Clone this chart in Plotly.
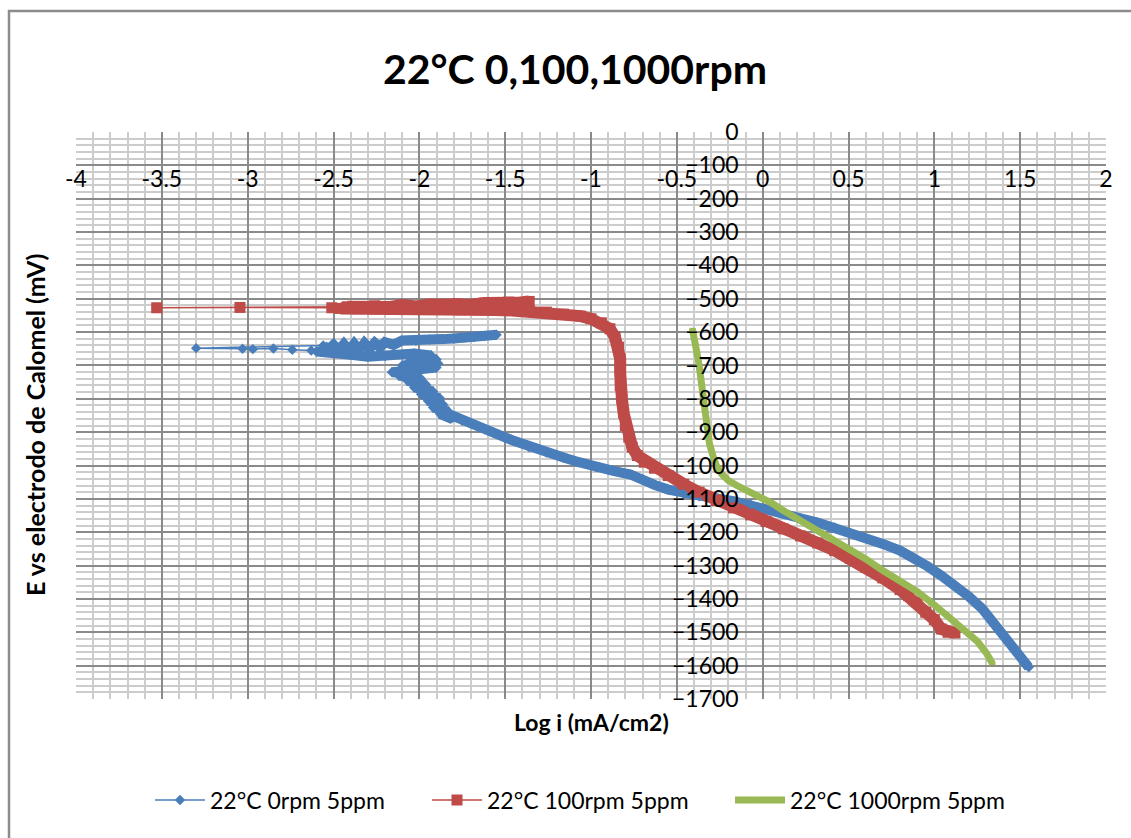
import plotly.graph_objects as go

# ---- 22 °C, 5 ppm: polarisation curves at 0, 100 and 1000 rpm ----
# log i (mA/cm2) and E vs calomel electrode (mV), in scan order

# 0 rpm: cathodic branch, noisy region, tail towards E corr, anodic branch
logi_0rpm = [
    1.55, 1.50, 1.45, 1.40, 1.34, 1.28, 1.20, 1.12, 1.04, 0.96, 0.88, 0.80,
    0.70, 0.60, 0.51, 0.42, 0.32, 0.22, 0.12, 0.02, -0.07, -0.17, -0.27,
    -0.37, -0.46, -0.55, -0.63, -0.70, -0.77, -0.87, -0.97, -1.07, -1.16,
    -1.26, -1.36, -1.45, -1.55, -1.65, -1.75, -1.80,
    -1.82, -1.88, -1.83, -1.92, -1.86, -1.95, -1.88, -1.99, -1.92, -2.03,
    -1.96, -2.07, -1.99, -2.12, -2.02, -2.16, -2.04, -1.90, -2.10, -1.89,
    -2.06, -1.90, -2.04, -1.93, -2.03,
    -2.10, -2.20, -2.30, -2.40, -2.50, -2.60,
    -2.63, -2.74, -2.85, -2.97, -3.03, -3.30,
    -2.56, -2.53, -2.50, -2.47, -2.44, -2.41, -2.38, -2.35, -2.32, -2.29,
    -2.26, -2.23, -2.20, -2.15, -2.10,
    -2.02, -1.94, -1.86, -1.80, -1.74, -1.68, -1.62, -1.55,
]
e_0rpm = [
    -1605, -1572, -1540, -1505, -1468, -1430, -1392, -1358, -1330, -1302,
    -1276, -1255, -1235, -1217, -1202, -1186, -1171, -1158, -1145, -1130,
    -1117, -1107, -1099, -1092, -1085, -1072, -1058, -1042, -1027, -1016,
    -1005, -990, -976, -961, -945, -926, -905, -886, -866, -852,
    -858, -845, -838, -826, -818, -806, -798, -786, -778, -766,
    -758, -746, -740, -730, -724, -720, -714, -706, -700, -694,
    -688, -682, -676, -670, -664,
    -668, -672, -674, -668, -662, -658,
    -655, -653, -649, -651, -650, -648,
    -640, -652, -638, -654, -636, -655, -635, -654, -633, -650,
    -632, -646, -630, -638, -625,
    -626, -622, -621, -619, -617, -615, -612, -608,
]
# the six points nearest E corr are sparse (thin line between markers)
SPARSE_0RPM = (71, 77)

# 100 rpm: cathodic branch, tail towards E corr, anodic branch
logi_100rpm = [
    1.12, 1.08, 1.04, 1.00, 0.95, 0.90, 0.85, 0.80, 0.70, 0.60, 0.51, 0.42,
    0.32, 0.22, 0.12, 0.02, -0.07, -0.17, -0.27, -0.37, -0.46, -0.55, -0.63,
    -0.69, -0.73, -0.76, -0.78, -0.80, -0.81, -0.82, -0.83, -0.83, -0.83,
    -0.84, -0.86, -0.89, -0.94, -1.00, -1.06, -1.16,
    -1.26, -1.36, -1.46, -1.56, -1.66, -1.76, -1.86, -1.96, -2.06, -2.16,
    -2.26, -2.36, -2.46,
    -2.51, -3.045, -3.53,
    -2.42, -2.34, -2.26, -2.18, -2.10, -2.02, -1.94, -1.86, -1.78, -1.70,
    -1.62, -1.54, -1.48, -1.42, -1.36,
]
e_100rpm = [
    -1502, -1500, -1490, -1462, -1440, -1410, -1390, -1372, -1337, -1305,
    -1278, -1255, -1232, -1211, -1190, -1168, -1148, -1127, -1105, -1080,
    -1056, -1030, -1008, -990, -970, -945, -915, -880, -843, -800,
    -760, -720, -680, -645, -615, -590, -572, -560, -552, -546,
    -540, -537, -535, -534, -533, -533, -532, -532, -531, -531,
    -530, -530, -529,
    -527, -526, -527,
    -524, -527, -521, -525, -519, -523, -517, -520, -515, -518,
    -513, -515, -510, -512, -508,
]
SPARSE_100RPM = (53, 56)

# 1000 rpm
logi_1000rpm = [
    -0.41, -0.40, -0.39, -0.38, -0.37, -0.36, -0.35, -0.34, -0.33, -0.32,
    -0.31, -0.29, -0.27, -0.24, -0.20, -0.15, -0.09, -0.02, 0.05, 0.12,
    0.22, 0.32, 0.42, 0.51, 0.60, 0.70, 0.80, 0.90, 1.00, 1.09, 1.17, 1.25,
    1.30, 1.34,
]
e_1000rpm = [
    -590, -610, -640, -670, -700, -740, -780, -820, -860, -900,
    -935, -970, -1000, -1025, -1045, -1060, -1075, -1093, -1112, -1135,
    -1165, -1195, -1222, -1247, -1280, -1315, -1345, -1378, -1418, -1458,
    -1490, -1527, -1560, -1595,
]

series_names = ["22°C 0rpm 5ppm", "22°C 100rpm 5ppm", "22°C 1000rpm 5ppm"]

x_ticks = [-4, -3.5, -3, -2.5, -2, -1.5, -1, -0.5, 0, 0.5, 1, 1.5, 2]
y_ticks = list(range(0, -1800, -100))

BLUE = "#4A7EBB"
RED = "#BE4B48"
GREEN = "#98B954"
FONT = "Lato, 'Open Sans', sans-serif"


def dense_part(values, sparse):
    """Values with the sparse stretch replaced by a gap."""
    a, b = sparse
    return values[:a] + [None] + values[b:]


fig = go.Figure()

# dense measurement bands (thick strokes under the marker traces)
fig.add_trace(go.Scatter(
    x=dense_part(logi_0rpm, SPARSE_0RPM), y=dense_part(e_0rpm, SPARSE_0RPM),
    mode="lines", line=dict(color=BLUE, width=10), showlegend=False,
    hoverinfo="skip", connectgaps=False))
fig.add_trace(go.Scatter(
    x=dense_part(logi_100rpm, SPARSE_100RPM),
    y=dense_part(e_100rpm, SPARSE_100RPM),
    mode="lines", line=dict(color=RED, width=12), showlegend=False,
    hoverinfo="skip", connectgaps=False))

fig.add_trace(go.Scatter(
    x=logi_0rpm, y=e_0rpm, name=series_names[0], mode="lines+markers",
    line=dict(color=BLUE, width=1.5),
    marker=dict(symbol="diamond", size=8, color=BLUE),
    legend="legend",
))
fig.add_trace(go.Scatter(
    x=logi_100rpm, y=e_100rpm, name=series_names[1], mode="lines+markers",
    line=dict(color=RED, width=1.5),
    marker=dict(symbol="square", size=11, color=RED),
    legend="legend2",
))
fig.add_trace(go.Scatter(
    x=logi_1000rpm, y=e_1000rpm, name=series_names[2], mode="lines+markers",
    line=dict(color=GREEN, width=7),
    marker=dict(symbol="line-ew", size=4, color=GREEN,
                line=dict(color=GREEN, width=2)),
    legend="legend3",
))

PLOT_L, PLOT_R, PLOT_T, PLOT_B = 76, 1106, 132, 699
W, H = 1131, 838
pw, ph = PLOT_R - PLOT_L, PLOT_B - PLOT_T


def px_x(p):
    return (p - PLOT_L) / pw


def px_y(p):
    return (PLOT_B - p) / ph


legend_common = dict(orientation="h", yanchor="middle", xanchor="left",
                     y=px_y(800), bgcolor="rgba(0,0,0,0)",
                     font=dict(family=FONT, size=23, color="#000"),
                     itemwidth=50)

TICK_FONT = dict(family=FONT, size=23, color="#000")

fig.update_layout(
    width=W, height=H,
    margin=dict(l=PLOT_L, r=W - PLOT_R, t=PLOT_T, b=H - PLOT_B),
    paper_bgcolor="white", plot_bgcolor="white",
    font=dict(family=FONT, color="#000"),
    title=dict(text="<b>22°C 0,100,1000rpm</b>", x=575 / W, y=1 - 70 / H,
               xref="container", yref="container",
               xanchor="center", yanchor="middle",
               font=dict(family=FONT, size=41, color="#000")),
    legend=dict(legend_common, x=px_x(150)),
    legend2=dict(legend_common, x=px_x(427)),
    legend3=dict(legend_common, x=px_x(730)),
    xaxis=dict(
        range=[-4, 2], tickvals=x_ticks, ticktext=[f"{v:g}" for v in x_ticks],
        side="bottom", anchor="free", position=px_y(163),
        ticks="", showline=False, zeroline=False,
        showgrid=True, gridcolor="#8a8a8a", gridwidth=1.5,
        minor=dict(dtick=0.1, showgrid=True, gridcolor="#cccccc",
                   gridwidth=1.5),
        tickfont=TICK_FONT,
        fixedrange=True,
    ),
    yaxis=dict(
        range=[-1700, 0], tickvals=y_ticks,
        anchor="free", position=4 / 6, side="left",
        ticks="", showline=False, zeroline=False, ticklabelstandoff=24,
        showgrid=True, gridcolor="#8a8a8a", gridwidth=1.5,
        minor=dict(dtick=20, showgrid=True, gridcolor="#cccccc",
                   gridwidth=1.5),
        tickfont=TICK_FONT,
        fixedrange=True,
    ),
    annotations=[
        dict(text="<b>Log i (mA/cm2)</b>", xref="paper", yref="paper",
             x=0.5, y=px_y(722), xanchor="center", yanchor="middle",
             showarrow=False, font=dict(family=FONT, size=23, color="#000")),
        dict(text="<b>E vs electrodo de Calomel (mV)</b>", xref="paper",
             yref="paper", x=px_x(35), y=px_y(425), textangle=-90,
             xanchor="center", yanchor="middle", showarrow=False,
             font=dict(family=FONT, size=25, color="#000")),
    ],
    shapes=[
        dict(type="rect", xref="paper", yref="paper",
             x0=px_x(9), x1=px_x(1145), y0=px_y(850), y1=px_y(11),
             line=dict(color="#8c8c8c", width=2.5), layer="below"),
    ],
)

fig.write_html("out.html")
